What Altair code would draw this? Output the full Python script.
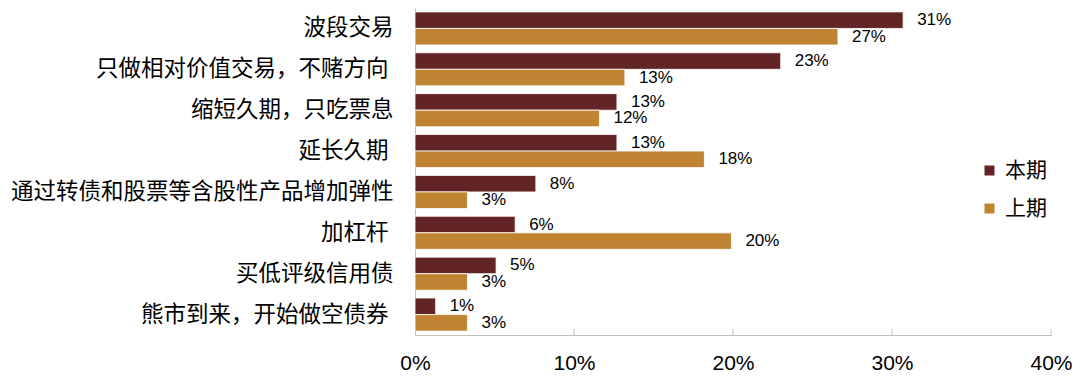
import altair as alt
import pandas as pd

categories = [
    "波段交易",
    "只做相对价值交易，不赌方向 ",
    "缩短久期，只吃票息",
    "延长久期 ",
    "通过转债和股票等含股性产品增加弹性",
    "加杠杆 ",
    "买低评级信用债",
    "熊市到来，开始做空债券 ",
]
series_names = ["本期", "上期"]
current = [30.7, 23.0, 12.7, 12.7, 7.6, 6.3, 5.1, 1.3]
previous = [26.6, 13.2, 11.6, 18.2, 3.3, 19.9, 3.3, 3.3]
x_ticks = [0, 10, 20, 30, 40]
colors = ["#632426", "#C08332"]

rows = []
for c, a, b in zip(categories, current, previous):
    rows.append({"cat": c, "series": series_names[0], "value": a, "label": f"{round(a)}%"})
    rows.append({"cat": c, "series": series_names[1], "value": b, "label": f"{round(b)}%"})
df = pd.DataFrame(rows)
ticks_df = pd.DataFrame({"value": x_ticks[1:]})

W, H = 636, 327

y_axis = alt.Axis(
    title=None, ticks=False, domainColor="#bfbfbf", labelFont="Noto Sans CJK SC",
    labelFontSize=22.5, labelColor="#000000", labelLimit=0,
    labelPadding={"condition": {"test": "test(/ $/, datum.value)", "value": 27}, "value": 22},
)
x_axis = alt.Axis(
    values=x_ticks, labelExpr="datum.value + '%'", ticks=False, grid=False,
    domainColor="#bfbfbf", labelFont="Liberation Sans", labelFontSize=21,
    labelColor="#000000", labelPadding=17, labelFlush=False, labelOverlap=False,
    title=None,
)
y_scale = alt.Scale(paddingInner=0.19, paddingOuter=0.095)
x_scale = alt.Scale(domain=[0, 40], nice=False)

y_enc = alt.Y("cat:N", sort=categories, scale=y_scale, axis=y_axis)
yoff = alt.YOffset("series:N", sort=series_names)
x_enc = alt.X("value:Q", scale=x_scale, axis=x_axis)
color_enc = alt.Color(
    "series:N",
    sort=series_names,
    scale=alt.Scale(domain=series_names, range=colors),
    legend=alt.Legend(
        title=None, orient="none", legendX=564, legendY=152, symbolType="square",
        symbolSize=100, symbolStrokeWidth=0, labelFont="Noto Sans CJK SC",
        labelFontSize=21, labelColor="#000000", rowPadding=16, labelOffset=5,
    ),
)

bars = alt.Chart(df).mark_bar(stroke="white", strokeWidth=0.8).encode(
    y=y_enc, yOffset=yoff, x=x_enc, color=color_enc
)
text = alt.Chart(df).mark_text(
    align="left", dx=14, font="Liberation Sans", fontSize=17, color="#000000", baseline="middle"
).encode(
    y=y_enc,
    yOffset=yoff,
    x=x_enc,
    text="label:N",
)
tick_rules = alt.Chart(ticks_df).mark_rule(color="#bfbfbf").encode(
    x=x_enc, y=alt.value(H - 6), y2=alt.value(H)
)

chart = (
    alt.layer(bars, text, tick_rules)
    .properties(
        width=W, height=H,
        padding={"left": 407, "top": 0, "right": 21, "bottom": 42},
        autosize=alt.AutoSizeParams(type="none"),
    )
    .configure_view(stroke=None)
)

chart.save("out.html", embed_options={"renderer": "svg", "actions": False})
